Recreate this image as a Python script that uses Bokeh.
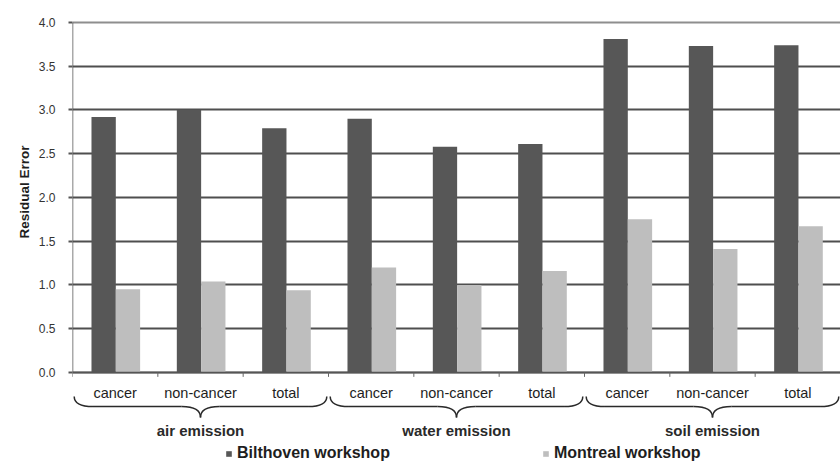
import math
from bokeh.plotting import figure
from bokeh.models import (Range1d, FixedTicker, Legend, LegendItem, ColumnDataSource,
                          CustomJSTickFormatter, Title)
from bokeh.core.properties import value
from bokeh.transform import dodge
from bokeh.embed import file_html
from bokeh.resources import INLINE

# ---- data ----
groups = ["air emission", "water emission", "soil emission"]
subcats = ["cancer", "non-cancer", "total"]
categories = [s for g in groups for s in subcats]
bilthoven = [2.92, 3.00, 2.79, 2.90, 2.58, 2.61, 3.81, 3.73, 3.74]
montreal = [0.95, 1.04, 0.94, 1.20, 1.00, 1.16, 1.75, 1.41, 1.67]
yticks = [0.0, 0.5, 1.0, 1.5, 2.0, 2.5, 3.0, 3.5, 4.0]
series_names = ["Bilthoven workshop", "Montreal workshop"]
y_title = "Residual Error"

FONT = "Liberation Sans"
DARK = "#575757"
LIGHT = "#bebebe"
TXT = "#1e1e1e"

n = len(categories)
xc = [i + 0.5 for i in range(n)]
src = ColumnDataSource(dict(x=xc, b=bilthoven, m=montreal, cat=categories))

p = figure(width=840, height=462, output_backend="svg", toolbar_location=None,
           x_range=Range1d(0, n), y_range=Range1d(-1.0286, 4.251),
           min_border_left=72, min_border_right=0, min_border_top=0, min_border_bottom=0)
p.outline_line_color = None
p.background_fill_color = "white"
p.border_fill_color = "white"

# axes
p.xaxis.visible = False
p.xgrid.visible = False
yax = p.yaxis[0]
yax.ticker = FixedTicker(ticks=yticks)
yax.formatter = CustomJSTickFormatter(code="return tick.toFixed(1);")
yax.axis_line_color = None
yax.major_tick_in = 0
yax.major_tick_out = 4
yax.major_tick_line_color = "#555555"
yax.major_tick_line_width = 2
yax.minor_tick_line_color = None
yax.major_label_text_font = FONT
yax.major_label_text_font_size = "12px"
yax.major_label_text_color = "#333333"
yax.major_label_standoff = 13

p.ygrid.ticker = FixedTicker(ticks=yticks[:-1])
p.ygrid.grid_line_color = "#4f4f4f"
p.ygrid.grid_line_width = 2
# top gridline lighter
p.segment(x0=[0], y0=[yticks[-1]], x1=[n], y1=[yticks[-1]], line_color="#8e8e8e", line_width=2)

# y title (side title, positioned from the bottom of the panel)
p.add_layout(Title(text=y_title, align="left", offset=224, standoff=8,
                   text_font=FONT, text_font_style="bold", text_font_size="13.5px",
                   text_color=TXT), "left")

# bars
w = 0.285
rb = p.vbar(x=dodge("x", -0.135, range=p.x_range), top="b", width=w, source=src,
            fill_color=DARK, line_color=None)
rm = p.vbar(x=dodge("x", 0.15, range=p.x_range), top="m", width=w, source=src,
            fill_color=LIGHT, line_color=None)

# axis lines
p.segment(x0=[0], y0=[0], x1=[0], y1=[yticks[-1]], line_color="#555555", line_width=1.5)
p.segment(x0=[0], y0=[0], x1=[n], y1=[0], line_color="#555555", line_width=1.5)
p.segment(x0=list(range(n + 1)), y0=[0] * (n + 1), x1=list(range(n + 1)), y1=[-0.05] * (n + 1),
          line_color="#666666", line_width=1)

# category labels
p.text(x=xc, y=[-0.24] * n, text=categories, text_font=value(FONT), text_font_size="14.5px",
       text_align="center", text_baseline="middle", text_color=TXT)

# braces
yE, yH, yT = -0.275, -0.39, -0.515
r = 0.22
for gi, g in enumerate(groups):
    x0 = gi * 3 + 0.02
    x1 = gi * 3 + 3 - 0.02
    xm = gi * 3 + 1.5
    p.quadratic(x0=[x0, xm - r, xm + r, x1], y0=[yE, yH, yH, yE],
                x1=[x0 + r, xm, xm, x1 - r], y1=[yH, yT, yT, yH],
                cx=[x0, xm, xm, x1], cy=[yH, yH, yH, yH],
                line_color="#2a2a2a", line_width=1.5)
    p.segment(x0=[x0 + r, xm + r], y0=[yH, yH], x1=[xm - r, x1 - r], y1=[yH, yH],
              line_color="#2a2a2a", line_width=1.5)

# group labels
p.text(x=[gi * 3 + 1.5 for gi in range(len(groups))], y=[-0.665] * len(groups), text=groups,
       text_font=value(FONT), text_font_size="15px", text_font_style="bold",
       text_align="center", text_baseline="middle", text_color="#2a2a2a")

legend = Legend(items=[LegendItem(label=series_names[0], renderers=[rb]),
                       LegendItem(label=series_names[1], renderers=[rm])],
                orientation="horizontal", location=(153, 0), spacing=152,
                padding=0, margin=0, border_line_color=None, background_fill_alpha=0,
                glyph_width=7, glyph_height=7, label_standoff=5, label_height=16,
                label_text_font=FONT, label_text_font_size="16px",
                label_text_font_style="bold", label_text_color=TXT)
p.add_layout(legend, "center")

open("out.html", "w").write(file_html(p, INLINE))
